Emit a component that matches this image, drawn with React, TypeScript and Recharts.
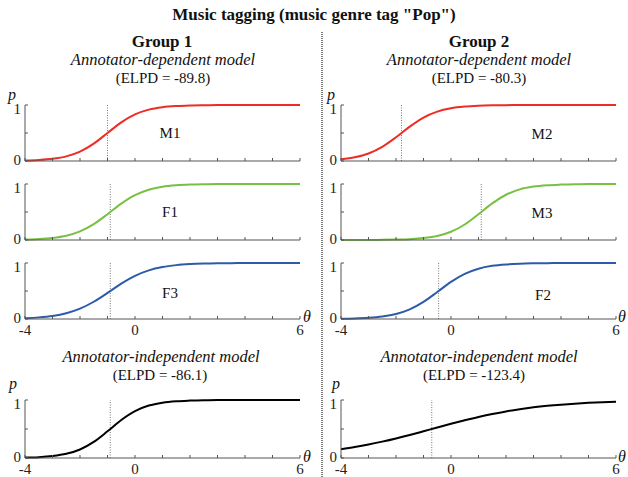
import { LineChart, Line, XAxis, YAxis, ReferenceLine } from "recharts";

// theta grid and curve values
const theta = [-4, -3.5, -3, -2.5, -2, -1.5, -1, -0.5, 0, 0.5, 1, 1.5, 2, 2.5, 3, 3.5, 4, 4.5, 5, 5.5, 6];
const xTicks = [-4, -3, -2, -1, 0, 1, 2, 3, 4, 5, 6];
const xLabels = [-4, 0, 6];
const yTicks = [0, 0.5, 1];

const pM1 = [0.008, 0.018, 0.039, 0.083, 0.168, 0.31, 0.5, 0.69, 0.832, 0.917, 0.961, 0.982, 0.992, 0.996, 0.998, 0.999, 1, 1, 1, 1, 1];
const pF1 = [0.008, 0.017, 0.037, 0.077, 0.154, 0.283, 0.461, 0.65, 0.801, 0.898, 0.95, 0.976, 0.989, 0.995, 0.998, 0.999, 0.999, 1, 1, 1, 1];
const pF3 = [0.015, 0.029, 0.055, 0.103, 0.185, 0.308, 0.466, 0.632, 0.771, 0.869, 0.929, 0.962, 0.98, 0.99, 0.995, 0.997, 0.999, 0.999, 1, 1, 1];
const pIndep1 = [0.007, 0.015, 0.034, 0.072, 0.147, 0.277, 0.46, 0.655, 0.808, 0.904, 0.954, 0.979, 0.99, 0.996, 0.998, 0.999, 1, 1, 1, 1, 1];
const pM2 = [0.032, 0.067, 0.135, 0.253, 0.423, 0.614, 0.776, 0.882, 0.942, 0.972, 0.987, 0.994, 0.997, 0.999, 0.999, 1, 1, 1, 1, 1, 1];
const pM3 = [0, 0.001, 0.001, 0.003, 0.007, 0.015, 0.034, 0.072, 0.147, 0.277, 0.46, 0.655, 0.808, 0.904, 0.954, 0.979, 0.99, 0.996, 0.998, 0.999, 1];
const pF2 = [0.005, 0.01, 0.021, 0.044, 0.089, 0.172, 0.305, 0.481, 0.663, 0.806, 0.898, 0.949, 0.975, 0.988, 0.994, 0.997, 0.999, 0.999, 1, 1, 1];
const pIndep2 = [0.152, 0.189, 0.232, 0.282, 0.337, 0.397, 0.461, 0.526, 0.59, 0.651, 0.708, 0.758, 0.803, 0.841, 0.873, 0.899, 0.92, 0.937, 0.951, 0.962, 0.97];

// thresholds (dotted lines, p = 0.5)
const thresholds = { M1: -1.0, F1: -0.9, F3: -0.9, I1: -0.9, M2: -1.8, M3: 1.1, F2: -0.45, I2: -0.7 };

const FONT = "'Liberation Serif', 'Times New Roman', serif";
const AXIS = "#555";
const RED = "#ee2b24";
const GREEN = "#78c043";
const BLUE = "#2d5ba8";

const PLOT_W = 275;

function XTick(props: any) {
  const { x, y, payload, showLabels } = props;
  const v = payload.value;
  return (
    <g>
      <line x1={x} y1={y} x2={x} y2={y - 3} stroke={AXIS} strokeWidth={1} />
      {showLabels && xLabels.includes(v) && (
        <text x={x} y={y + 16} textAnchor="middle" fontFamily={FONT} fontSize={15} fill="#222">
          {v}
        </text>
      )}
    </g>
  );
}

function YTick(props: any) {
  const { x, y, payload } = props;
  const v = payload.value;
  return (
    <g>
      <line x1={x} y1={y} x2={x + 3} y2={y} stroke={AXIS} strokeWidth={1} />
      {v !== 0.5 && (
        <text x={x - 4} y={v === 1 ? y + 9 : y + 4} textAnchor="end" fontFamily={FONT} fontSize={15} fill="#222">
          {v}
        </text>
      )}
    </g>
  );
}

function Panel(props: { axisX: number; plotTop: number; plotH: number; values: number[]; color: string; threshold: number; labels: boolean }) {
  const { axisX, plotTop, plotH, values, color, threshold, labels } = props;
  const data = theta.map((t, i) => ({ theta: t, p: values[i] }));
  return (
    <div style={{ position: "absolute", left: axisX - 25, top: plotTop - 10 }}>
      <LineChart width={PLOT_W + 45} height={plotH + 32} data={data} margin={{ top: 10, right: 20, bottom: 0, left: 5 }}>
        <XAxis
          type="number"
          dataKey="theta"
          domain={[-4, 6]}
          ticks={xTicks}
          interval={0}
          tickLine={false}
          tickSize={0}
          tickMargin={0}
          height={22}
          stroke={AXIS}
          tick={<XTick showLabels={labels} />}
        />
        <YAxis
          type="number"
          domain={[0, 1]}
          ticks={yTicks}
          interval={0}
          tickLine={false}
          tickSize={0}
          tickMargin={0}
          width={20}
          stroke={AXIS}
          tick={<YTick />}
        />
        <ReferenceLine x={threshold} stroke="#777" strokeDasharray="1 1.5" strokeWidth={1} />
        <Line type="monotone" dataKey="p" stroke={color} strokeWidth={2} dot={false} isAnimationActive={false} />
      </LineChart>
    </div>
  );
}

const LX = 25;
const RX = 341;

export default function App() {
  const t = (x: number, y: number, s: string, size: number, extra: any = {}) => (
    <text x={x} y={y} textAnchor="middle" fontFamily={FONT} fontSize={size} fill="#111" {...extra}>
      {s}
    </text>
  );
  return (
    <div style={{ position: "absolute", left: 0, top: 0, width: 628, height: 477, background: "#fff", overflow: "hidden" }}>
      <Panel axisX={LX} plotTop={105} plotH={56} values={pM1} color={RED} threshold={thresholds.M1} labels={false} />
      <Panel axisX={LX} plotTop={184} plotH={56} values={pF1} color={GREEN} threshold={thresholds.F1} labels={false} />
      <Panel axisX={LX} plotTop={263} plotH={56} values={pF3} color={BLUE} threshold={thresholds.F3} labels={true} />
      <Panel axisX={LX} plotTop={400} plotH={58} values={pIndep1} color="#000" threshold={thresholds.I1} labels={true} />
      <Panel axisX={RX} plotTop={105} plotH={56} values={pM2} color={RED} threshold={thresholds.M2} labels={false} />
      <Panel axisX={RX} plotTop={184} plotH={56} values={pM3} color={GREEN} threshold={thresholds.M3} labels={false} />
      <Panel axisX={RX} plotTop={263} plotH={56} values={pF2} color={BLUE} threshold={thresholds.F2} labels={true} />
      <Panel axisX={RX} plotTop={400} plotH={58} values={pIndep2} color="#000" threshold={thresholds.I2} labels={true} />

      <svg width={628} height={477} style={{ position: "absolute", left: 0, top: 0, pointerEvents: "none" }}>
        <line x1={322} y1={32} x2={322} y2={477} stroke="#222" strokeWidth={1.2} strokeDasharray="1 1" />
        {t(314, 20, 'Music tagging (music genre tag "Pop")', 17, { fontWeight: "bold" })}
        {t(162, 47, "Group 1", 17, { fontWeight: "bold" })}
        {t(479, 47, "Group 2", 17, { fontWeight: "bold" })}
        {t(163, 65, "Annotator-dependent model", 16.5, { fontStyle: "italic" })}
        {t(479, 65, "Annotator-dependent model", 16.5, { fontStyle: "italic" })}
        {t(163, 83, "(ELPD = -89.8)", 15)}
        {t(479, 83, "(ELPD = -80.3)", 15)}
        {t(161, 362, "Annotator-independent model", 16.5, { fontStyle: "italic" })}
        {t(479, 362, "Annotator-independent model", 16.5, { fontStyle: "italic" })}
        {t(160, 380, "(ELPD = -86.1)", 15)}
        {t(474, 380, "(ELPD = -123.4)", 15)}
        {t(12, 100, "p", 16, { fontStyle: "italic" })}
        {t(331, 100, "p", 16, { fontStyle: "italic" })}
        {t(13, 389, "p", 16, { fontStyle: "italic" })}
        {t(336, 389, "p", 16, { fontStyle: "italic" })}
        {t(170, 138, "M1", 15)}
        {t(170, 217, "F1", 15)}
        {t(170, 298, "F3", 15)}
        {t(542, 139, "M2", 15)}
        {t(542, 218, "M3", 15)}
        {t(543, 300, "F2", 15)}
        {t(307, 322, "θ", 16, { fontStyle: "italic" })}
        {t(307, 462, "θ", 16, { fontStyle: "italic" })}
        {t(622, 322, "θ", 16, { fontStyle: "italic" })}
        {t(622, 462, "θ", 16, { fontStyle: "italic" })}
      </svg>
    </div>
  );
}
